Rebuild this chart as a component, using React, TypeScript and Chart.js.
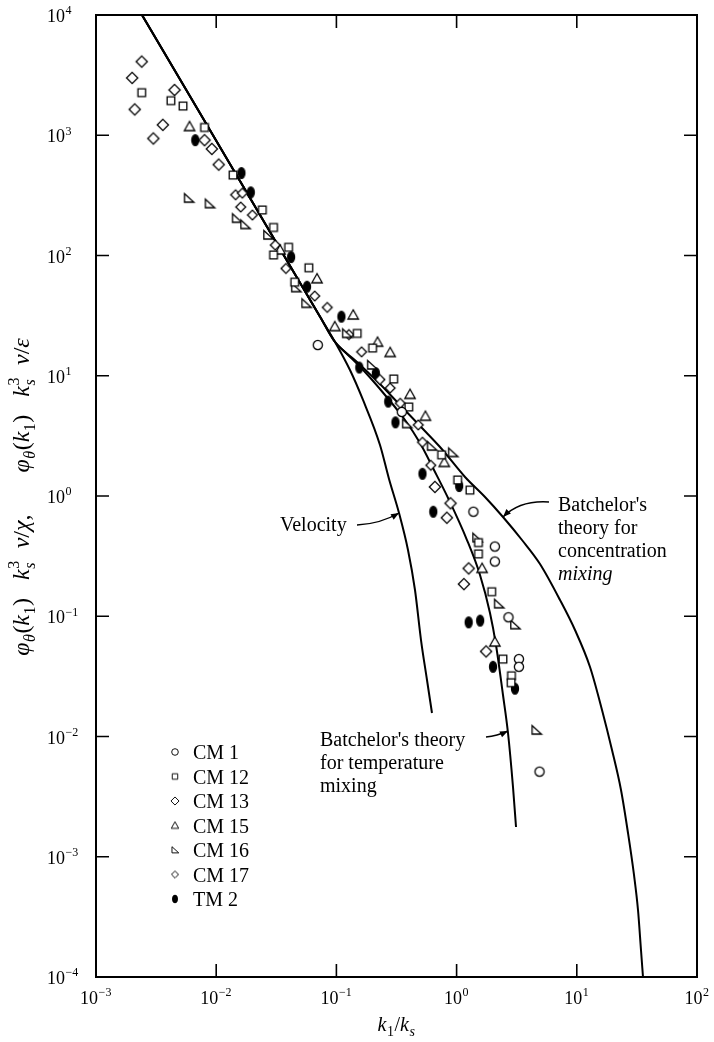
import React, { useEffect, useRef } from 'react';
import { Chart, registerables } from 'chart.js';

Chart.register(...registerables);

// ---------- data ----------
const xTickExponents = [-3, -2, -1, 0, 1, 2];
const yTickExponents = [-4, -3, -2, -1, 0, 1, 2, 3, 4];

const seriesNames = ['CM 1', 'CM 12', 'CM 13', 'CM 15', 'CM 16', 'CM 17', 'TM 2'];

const cm1: [number, number][] = [
  [0.070, 18], [0.35, 5.0], [1.38, 0.74], [2.08, 0.38], [2.08, 0.285],
  [2.7, 0.098], [3.3, 0.044], [3.3, 0.038], [4.9, 0.0051],
];
const cm12: [number, number][] = [
  [0.0024, 2260], [0.0042, 1940], [0.0053, 1750], [0.0080, 1160], [0.0138, 467],
  [0.0242, 239], [0.030, 171], [0.040, 117], [0.030, 101], [0.045, 60], [0.059, 79],
  [0.149, 22.5], [0.20, 17], [0.30, 9.4], [0.40, 5.5], [0.75, 2.2], [1.02, 1.36],
  [1.29, 1.12], [1.52, 0.41], [1.52, 0.33], [1.96, 0.16], [2.43, 0.044],
  [2.86, 0.032], [2.84, 0.028],
];
const cm13: [number, number][] = [
  [0.0024, 4100], [0.0020, 3000], [0.0021, 1640], [0.0045, 2380], [0.0036, 1220],
  [0.0030, 940], [0.0080, 910], [0.0092, 770], [0.0105, 570], [0.66, 1.19],
  [0.89, 0.87], [0.83, 0.66], [1.26, 0.25], [1.15, 0.185], [1.76, 0.051],
];
const cm15: [number, number][] = [
  [0.0060, 1180], [0.034, 111], [0.069, 64], [0.138, 32], [0.097, 25.6], [0.22, 19],
  [0.28, 15.6], [0.41, 7.0], [0.55, 4.6], [0.79, 1.9], [1.63, 0.25], [2.08, 0.061],
];
const cm16: [number, number][] = [
  [0.0059, 300], [0.0088, 270], [0.0148, 204], [0.0174, 181], [0.027, 148],
  [0.046, 54], [0.056, 40], [0.122, 22.5], [0.197, 12.3], [0.385, 4.0], [0.62, 2.6],
  [0.93, 2.3], [1.48, 0.45], [2.24, 0.127], [3.06, 0.085], [4.6, 0.0113],
];
const cm17: [number, number][] = [
  [0.0145, 320], [0.0165, 330], [0.016, 253], [0.020, 217], [0.031, 122], [0.038, 78],
  [0.066, 46], [0.084, 37], [0.127, 22], [0.162, 15.8], [0.23, 9.3], [0.28, 7.9],
  [0.34, 5.9], [0.48, 3.9], [0.52, 2.8], [0.61, 1.8],
];
const tm2: [number, number][] = [
  [0.0067, 910], [0.0162, 485], [0.0194, 335], [0.042, 97], [0.057, 55], [0.110, 31],
  [0.155, 11.7], [0.213, 10.5], [0.27, 6.1], [0.31, 4.1], [0.52, 1.53], [0.64, 0.74],
  [1.05, 1.21], [1.26, 0.089], [1.57, 0.092], [2.01, 0.038], [3.06, 0.025],
];

const velocityCurve: [number, number][] = [
  [0.002414, 10000], [0.0731, 31.0], [0.0974, 19.09], [0.1297, 11.16], [0.1665, 6.286],
  [0.2305, 2.656], [0.274, 1.385], [0.3318, 0.7222], [0.3941, 0.3556], [0.4507, 0.1653],
  [0.5057, 0.06345], [0.5672, 0.02951], [0.624, 0.01568],
];
const temperatureCurve: [number, number][] = [
  [0.002414, 10000], [0.0731, 31.0], [0.0974, 19.09], [0.1179, 15.76], [0.1729, 10.74],
  [0.2537, 6.917], [0.3722, 4.285], [0.4961, 2.758], [0.6486, 1.645], [0.8646, 0.9262],
  [1.22, 0.4306], [1.566, 0.2203], [1.896, 0.1064], [2.127, 0.05767], [2.432, 0.02214],
  [2.677, 0.01069], [2.946, 0.003802], [3.121, 0.001768],
];
const concentrationCurve: [number, number][] = [
  [0.002414, 10000], [0.0731, 31.0], [0.0974, 19.09], [0.1484, 13.01], [0.2219, 8.872],
  [0.3382, 5.712], [0.5155, 3.678], [0.7277, 2.556], [1.175, 1.439], [1.723, 0.981],
  [2.432, 0.6688], [3.5, 0.4306], [4.941, 0.2719], [7.25, 0.1365], [9.661, 0.07686],
  [12.88, 0.03784], [16.21, 0.01661], [19.63, 0.007721], [23.32, 0.003591],
  [26.67, 0.001576], [29.92, 0.0007051], [32.3, 0.0003607], [34.2, 0.0001677],
  [35.54, 0.0001],
];

// ---------- drawing helpers ----------
const FONT = '"Liberation Serif", "Times New Roman", "DejaVu Serif", serif';
const font = (size: number, it = false) => `${it ? 'italic ' : ''}${size}px ${FONT}`;

type Seg = { t: string; it?: boolean; sub?: string; subIt?: boolean; sup?: string };

function segsWidth(ctx: CanvasRenderingContext2D, segs: Seg[], size: number) {
  let w = 0;
  const s2 = Math.round(size * 0.68);
  for (const s of segs) {
    ctx.font = font(size, s.it);
    w += ctx.measureText(s.t).width;
    let sw = 0;
    if (s.sub) { ctx.font = font(s2, s.subIt); sw = Math.max(sw, ctx.measureText(s.sub).width); }
    if (s.sup) { ctx.font = font(s2, false); sw = Math.max(sw, ctx.measureText(s.sup).width); }
    w += sw ? sw + 1 : 0;
  }
  return w;
}

function drawSegs(ctx: CanvasRenderingContext2D, segs: Seg[], x: number, y: number, size: number) {
  const s2 = Math.round(size * 0.68);
  let cx = x;
  for (const s of segs) {
    ctx.font = font(size, s.it);
    ctx.fillText(s.t, cx, y);
    cx += ctx.measureText(s.t).width;
    let sw = 0;
    if (s.sub) {
      ctx.font = font(s2, s.subIt);
      ctx.fillText(s.sub, cx + 0.5, y + size * 0.27);
      sw = Math.max(sw, ctx.measureText(s.sub).width);
    }
    if (s.sup) {
      ctx.font = font(s2, false);
      ctx.fillText(s.sup, cx + 0.5, y - size * 0.42);
      sw = Math.max(sw, ctx.measureText(s.sup).width);
    }
    cx += sw ? sw + 1 : 0;
  }
}

type Kind = 'circle' | 'square' | 'diamond' | 'diamondS' | 'triangle' | 'rtri' | 'ellipse';

function makeMarker(kind: Kind, scale = 1): HTMLCanvasElement {
  const size = Math.ceil(16 * scale) + 2;
  const c = document.createElement('canvas');
  c.width = size;
  c.height = size;
  const ctx = c.getContext('2d')!;
  ctx.translate(size / 2, size / 2);
  ctx.scale(scale, scale);
  ctx.lineWidth = 1.3;
  ctx.strokeStyle = '#000';
  ctx.fillStyle = '#fff';
  ctx.beginPath();
  if (kind === 'circle') ctx.arc(0, 0, 4.6, 0, Math.PI * 2);
  else if (kind === 'square') ctx.rect(-3.8, -3.8, 7.6, 7.6);
  else if (kind === 'diamond' || kind === 'diamondS') {
    const r = kind === 'diamond' ? 5.6 : 4.9;
    ctx.moveTo(0, -r); ctx.lineTo(r, 0); ctx.lineTo(0, r); ctx.lineTo(-r, 0); ctx.closePath();
  } else if (kind === 'triangle') {
    ctx.moveTo(0, -5.2); ctx.lineTo(5.2, 4); ctx.lineTo(-5.2, 4); ctx.closePath();
  } else if (kind === 'rtri') {
    ctx.moveTo(-4.2, -4.6); ctx.lineTo(-4.2, 4); ctx.lineTo(5.2, 4); ctx.closePath();
  } else if (kind === 'ellipse') {
    ctx.ellipse(0, 0, 3.5, 5.4, 0, 0, Math.PI * 2);
    ctx.fillStyle = '#000';
  }
  ctx.fill();
  ctx.stroke();
  return c;
}

function arrow(ctx: CanvasRenderingContext2D, x0: number, y0: number, cx: number, cy: number, x1: number, y1: number) {
  ctx.beginPath();
  ctx.moveTo(x0, y0);
  ctx.quadraticCurveTo(cx, cy, x1, y1);
  ctx.lineWidth = 1.4;
  ctx.stroke();
  const ang = Math.atan2(y1 - cy, x1 - cx);
  const L = 8, W = 3.2;
  ctx.beginPath();
  ctx.moveTo(x1, y1);
  ctx.lineTo(x1 - L * Math.cos(ang) + W * Math.sin(ang), y1 - L * Math.sin(ang) - W * Math.cos(ang));
  ctx.lineTo(x1 - L * Math.cos(ang) - W * Math.sin(ang), y1 - L * Math.sin(ang) + W * Math.cos(ang));
  ctx.closePath();
  ctx.fill();
}

export default function App() {
  const ref = useRef<HTMLCanvasElement>(null);

  useEffect(() => {
    if (!ref.current) return;
    const kinds: Kind[] = ['circle', 'square', 'diamond', 'triangle', 'rtri', 'diamondS', 'ellipse'];
    const markers = kinds.map((k) => makeMarker(k));
    const legendMarkers = kinds.map((k) => makeMarker(k, 0.72));
    const seriesData = [cm1, cm12, cm13, cm15, cm16, cm17, tm2];

    const toXY = (arr: [number, number][]) => arr.map(([x, y]) => ({ x, y }));
    const curveDs = (arr: [number, number][]) => ({
      data: toXY(arr),
      showLine: true,
      borderColor: '#000',
      borderWidth: 2,
      pointRadius: 0,
      cubicInterpolationMode: 'monotone' as const,
      fill: false,
    });

    const decor = {
      id: 'decor',
      afterDatasetsDraw(chart: any) {
        const { ctx, chartArea: a } = chart;
        const xs = chart.scales.x;
        const ys = chart.scales.y;
        ctx.save();
        ctx.strokeStyle = '#000';
        ctx.fillStyle = '#000';
        ctx.lineWidth = 2;
        ctx.strokeRect(a.left, a.top, a.right - a.left, a.bottom - a.top);
        ctx.lineWidth = 1.6;
        const TL = 13;
        ctx.beginPath();
        for (const e of xTickExponents) {
          const px = xs.getPixelForValue(Math.pow(10, e));
          ctx.moveTo(px, a.bottom); ctx.lineTo(px, a.bottom - TL);
          ctx.moveTo(px, a.top); ctx.lineTo(px, a.top + TL);
        }
        for (const e of yTickExponents) {
          const py = ys.getPixelForValue(Math.pow(10, e));
          ctx.moveTo(a.left, py); ctx.lineTo(a.left + TL, py);
          ctx.moveTo(a.right, py); ctx.lineTo(a.right - TL, py);
        }
        ctx.stroke();

        // tick labels
        ctx.textAlign = 'left';
        ctx.textBaseline = 'alphabetic';
        const expText = (e: number) => (e < 0 ? '\u2212' + Math.abs(e) : String(e));
        for (const e of yTickExponents) {
          const py = ys.getPixelForValue(Math.pow(10, e));
          drawSegs(ctx, [{ t: '10', sup: expText(e) }], 47, py + 7, 18);
        }
        for (const e of xTickExponents) {
          const px = xs.getPixelForValue(Math.pow(10, e));
          const segs = [{ t: '10', sup: expText(e) }];
          const w = segsWidth(ctx, segs, 18);
          drawSegs(ctx, segs, px - w / 2, 1004, 18);
        }

        // axis titles
        const xt: Seg[] = [
          { t: 'k', it: true, sub: '1' },
          { t: '/' },
          { t: 'k', it: true, sub: 's', subIt: true },
        ];
        const xw = segsWidth(ctx, xt, 20);
        drawSegs(ctx, xt, (a.left + a.right) / 2 - xw / 2, 1031, 20);

        const yt: Seg[] = [
          { t: '\u03c6', it: true, sub: '\u03b8', subIt: true },
          { t: '(' }, { t: 'k', it: true, sub: '1' }, { t: ')   ' },
          { t: 'k', it: true, sub: 's', subIt: true, sup: '3' },
          { t: '  \u03bd', it: true }, { t: '/' }, { t: '\u03c7', it: true }, { t: ',       ' },
          { t: '\u03c6', it: true, sub: '\u03b8', subIt: true },
          { t: '(' }, { t: 'k', it: true, sub: '1' }, { t: ')   ' },
          { t: 'k', it: true, sub: 's', subIt: true, sup: '3' },
          { t: '  \u03bd', it: true }, { t: '/' }, { t: '\u03b5', it: true },
        ];
        const yw = segsWidth(ctx, yt, 24);
        ctx.save();
        ctx.translate(29, 497);
        ctx.rotate(-Math.PI / 2);
        drawSegs(ctx, yt, -yw / 2, 0, 24);
        ctx.restore();

        // annotations
        ctx.font = font(20);
        ctx.fillText('Velocity', 280, 531);
        arrow(ctx, 357, 525, 380, 524, 399, 513);

        ctx.fillText("Batchelor's theory", 320, 746);
        ctx.fillText('for temperature', 320, 769);
        ctx.fillText('mixing', 320, 792);
        arrow(ctx, 486, 737, 497, 736, 508, 731);

        ctx.fillText("Batchelor's", 558, 511);
        ctx.fillText('theory for', 558, 534);
        ctx.fillText('concentration', 558, 557);
        ctx.font = font(20, true);
        ctx.fillText('mixing', 558, 580);
        arrow(ctx, 549, 502, 520, 500, 503, 517);

        // legend
        seriesNames.forEach((name, i) => {
          const yy = 752 + i * 24.5;
          const m = legendMarkers[i];
          ctx.drawImage(m, 175 - m.width / 2, yy - m.height / 2);
          ctx.font = font(20);
          ctx.fillText(name, 193, yy + 7);
        });
        ctx.restore();
      },
    };

    const chart = new Chart(ref.current, {
      type: 'scatter',
      data: {
        datasets: [
          ...seriesData.map((d, i) => ({
            label: seriesNames[i],
            data: toXY(d),
            pointStyle: markers[i] as any,
            pointRadius: 5,
            showLine: false,
          })),
          curveDs(velocityCurve),
          curveDs(temperatureCurve),
          curveDs(concentrationCurve),
        ] as any,
      },
      options: {
        animation: false,
        responsive: false,
        devicePixelRatio: 1,
        events: [],
        layout: { padding: { left: 96, right: 17, top: 15, bottom: 65 } },
        plugins: { legend: { display: false }, tooltip: { enabled: false } },
        scales: {
          x: { type: 'logarithmic', min: 1e-3, max: 1e2, display: false },
          y: { type: 'logarithmic', min: 1e-4, max: 1e4, display: false },
        },
      },
      plugins: [decor],
    });
    return () => chart.destroy();
  }, []);

  return (
    <div style={{ position: 'absolute', left: 0, top: 0, width: 714, height: 1042, background: '#fff' }}>
      <canvas ref={ref} width={714} height={1042} style={{ display: 'block' }} />
    </div>
  );
}
